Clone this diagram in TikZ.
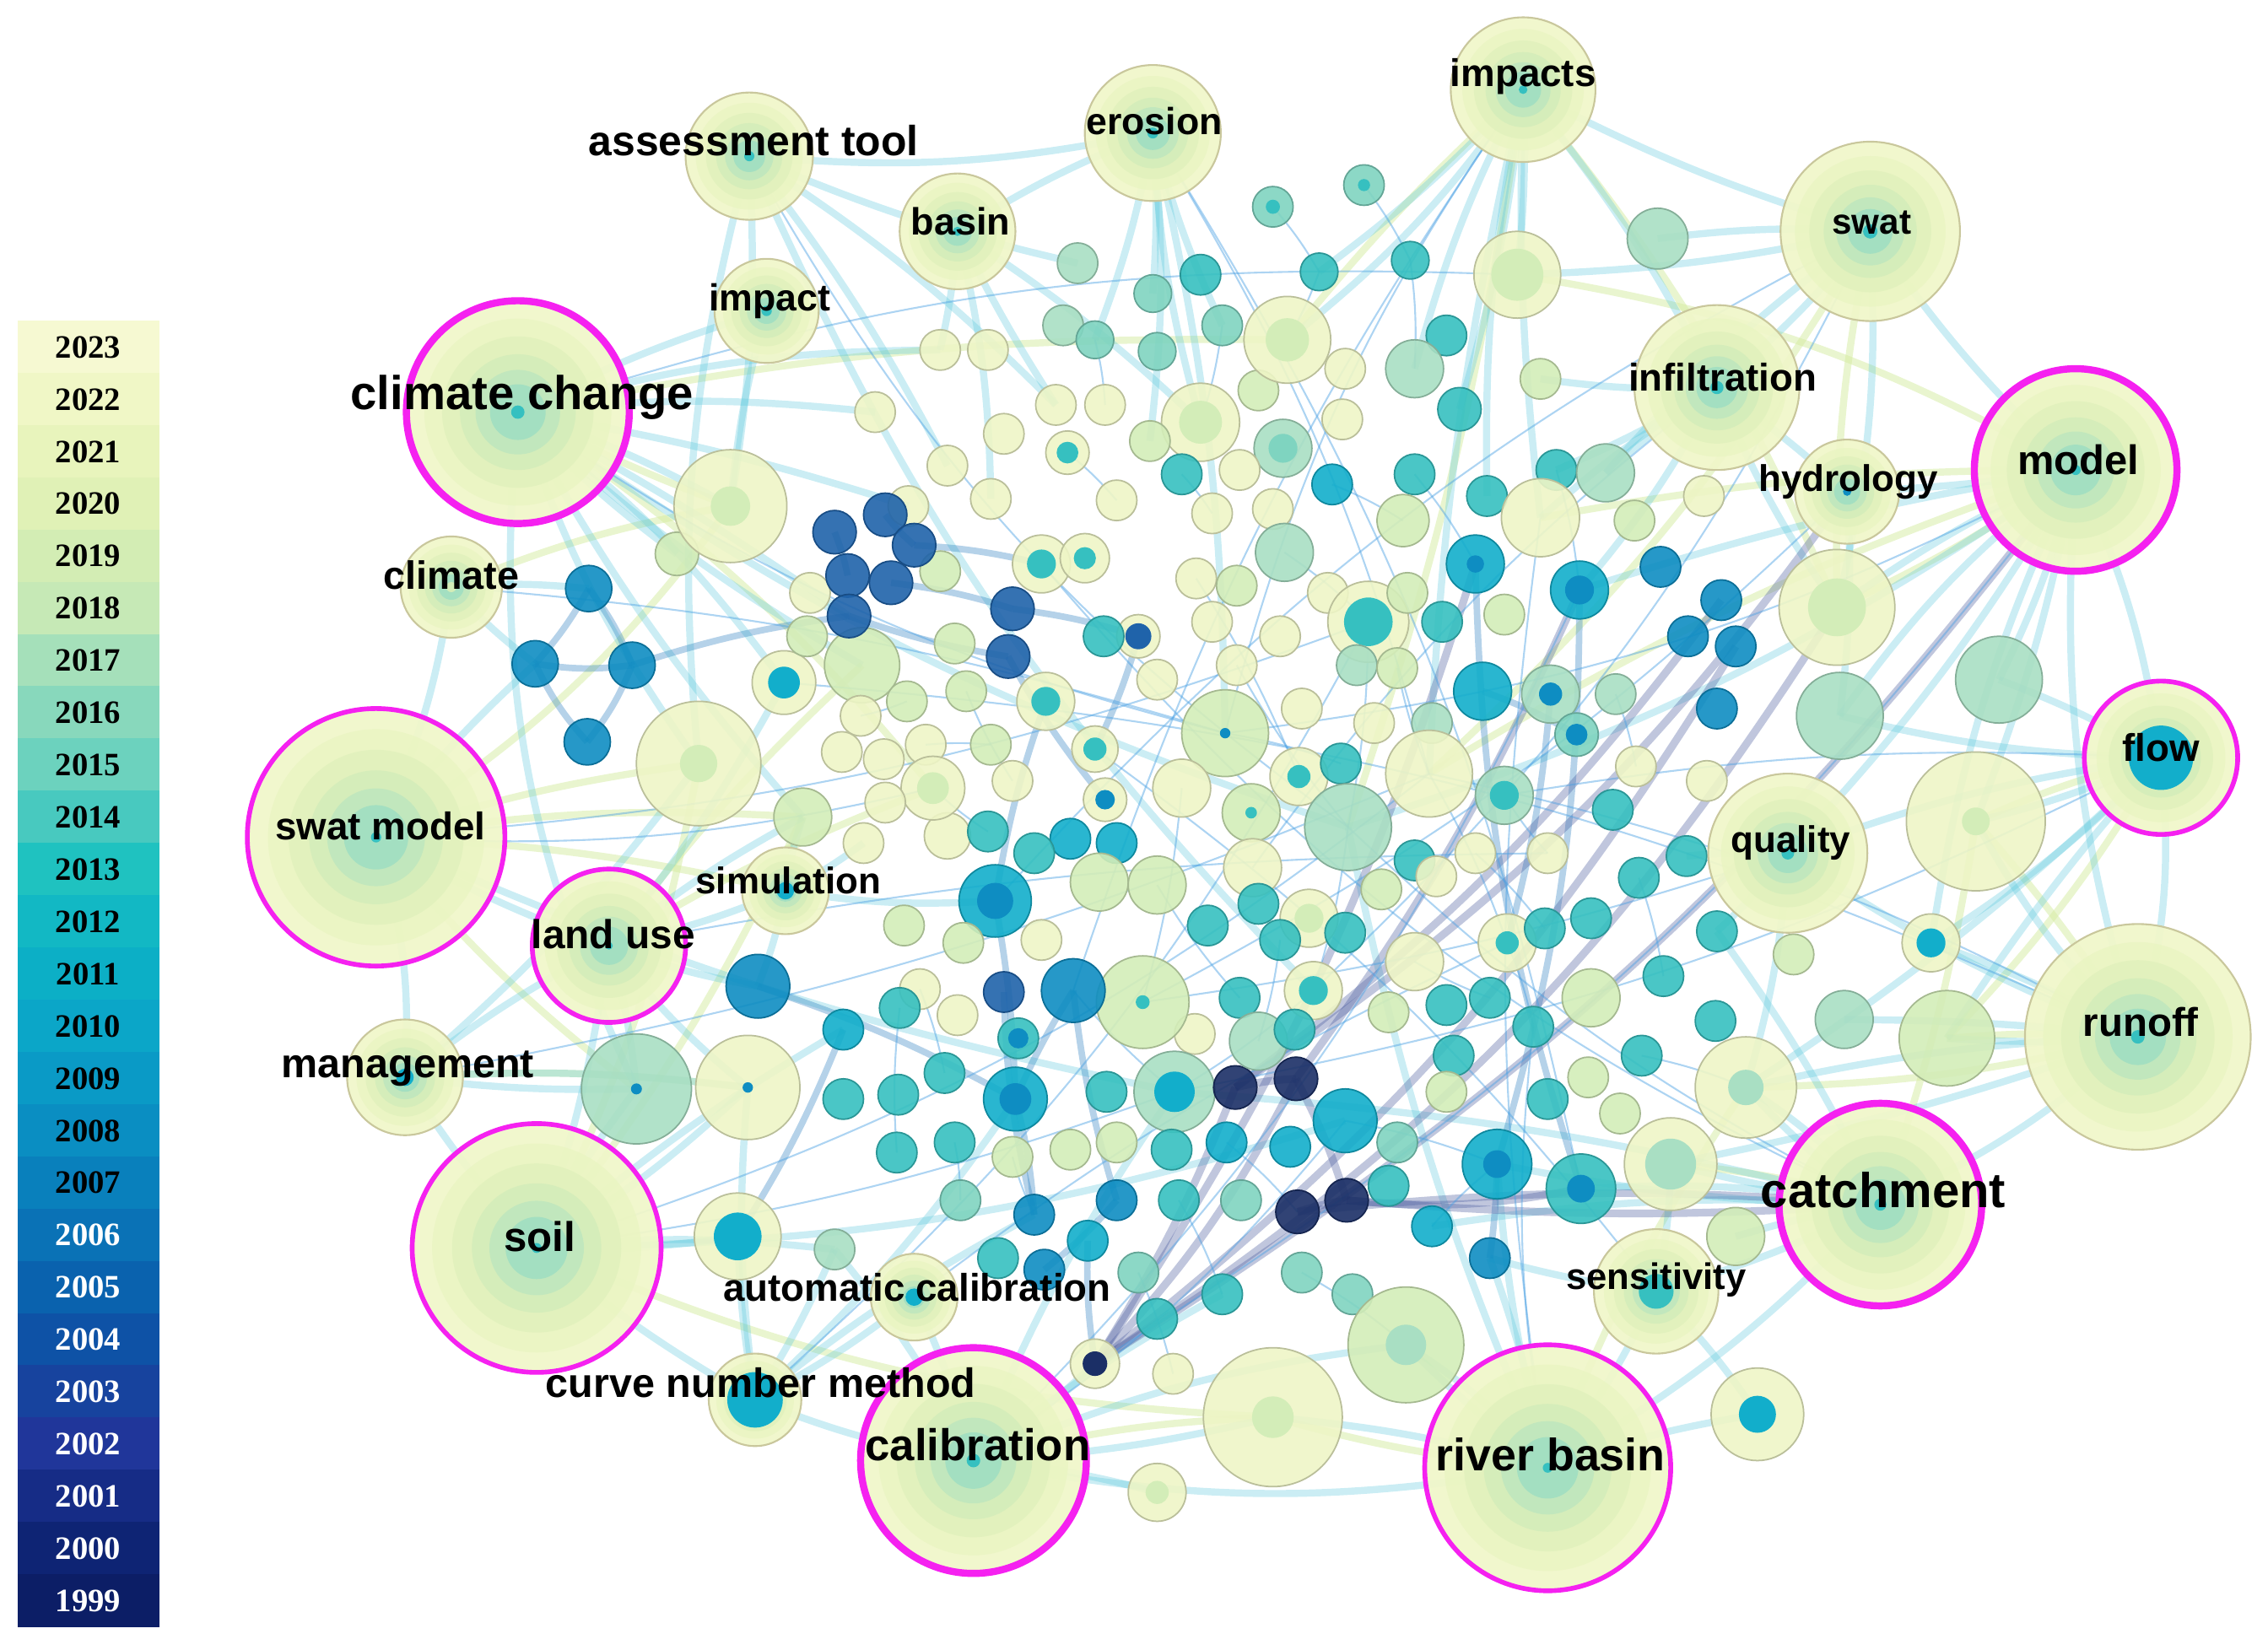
\documentclass[tikz,border=0pt]{standalone}
\usepackage{fontspec}
\setmainfont{Liberation Sans}
\newfontfamily\legfont{Liberation Serif}
\pgfdeclarelayer{bg}
\pgfsetlayers{bg,main}
% legend colours
\definecolor{y2023}{HTML}{F6F9D2}\definecolor{y2022}{HTML}{F0F7C6}\definecolor{y2021}{HTML}{E8F4BC}
\definecolor{y2020}{HTML}{E0F1B6}\definecolor{y2019}{HTML}{D3EDB4}\definecolor{y2018}{HTML}{C6E9B6}
\definecolor{y2017}{HTML}{A5E0BA}\definecolor{y2016}{HTML}{88D8BC}\definecolor{y2015}{HTML}{6CD2BE}
\definecolor{y2014}{HTML}{48C9BF}\definecolor{y2013}{HTML}{1FC2C0}\definecolor{y2012}{HTML}{12B8C4}
\definecolor{y2011}{HTML}{0CAFC6}\definecolor{y2010}{HTML}{0BA6C8}\definecolor{y2009}{HTML}{0A9AC6}
\definecolor{y2008}{HTML}{0A8EC2}\definecolor{y2007}{HTML}{0980BC}\definecolor{y2006}{HTML}{0A72B6}
\definecolor{y2005}{HTML}{0A62AE}\definecolor{y2004}{HTML}{0E52A6}\definecolor{y2003}{HTML}{17439E}
\definecolor{y2002}{HTML}{20369A}\definecolor{y2001}{HTML}{162C86}\definecolor{y2000}{HTML}{0E2474}
\definecolor{y1999}{HTML}{0C1E66}
% node colours
\definecolor{cY}{HTML}{EEF5C6}\definecolor{cLG}{HTML}{D3EDB8}\definecolor{cMG}{HTML}{A9DFC3}
\definecolor{cTG}{HTML}{7FD4C0}\definecolor{cT}{HTML}{36C0C0}\definecolor{cC}{HTML}{12AECB}
\definecolor{cB}{HTML}{0E8DC2}\definecolor{cDB}{HTML}{1F63AA}\definecolor{cN}{HTML}{1B2F66}
\definecolor{kw0}{HTML}{F0F7CA}\definecolor{kw1}{HTML}{EAF5C2}\definecolor{kw2}{HTML}{E0F1BC}
\definecolor{kw3}{HTML}{D2ECBA}\definecolor{kw4}{HTML}{BDE6BE}\definecolor{kw5}{HTML}{9CDDC2}
\definecolor{kwb}{HTML}{C9C79C}\definecolor{pinkc}{HTML}{F521F0}
\definecolor{ecyan}{HTML}{5CC8DC}\definecolor{eblue}{HTML}{2A7FC0}
\definecolor{epurp}{HTML}{4B5C9E}\definecolor{egreen}{HTML}{D4EBA0}
\newcommand\bubbles[2]{%
  \foreach \px/\py/\pr/\pf/\pc/\pk [count=\i] in {#2}{%
    \node[bub=\pr, fill=\pf, draw=\pf!78!black, line width=0.5pt, fill opacity=0.9] (#1\i) at (\px,\py) {};
    \fill[\pc] (#1\i.center) circle[radius={\pk*\pr*0.017143cm}];
  }}
\newcommand\kwn[7][draw=kwb,line width=0.6pt]{%
  \node[bub=#5, fill=kw0, fill opacity=0.95, #1] (#2) at (#3,#4) {};
  \foreach \fr/\cl in {0.84/kw1,0.68/kw2,0.52/kw3,0.38/kw4,0.25/kw5}{%
    \fill[\cl, fill opacity=0.8] (#2.center) circle[radius={\fr*#5*0.017143cm}];}
  \fill[#6] (#2.center) circle[radius={#7*#5*0.017143cm}];
}
\begin{document}
\begin{tikzpicture}[x=0.017143cm, y=-0.017143cm,
  bub/.style={circle, inner sep=0pt, outer sep=0pt, minimum size={#1*0.034286cm}},
  lab/.style={inner sep=0pt, text=black, font=\bfseries\fontsize{#1}{#1}\selectfont},
  legcell/.style={rectangle, inner sep=0pt, minimum width=1.68cm, minimum height=0.63cm,
    font=\legfont\bfseries\fontsize{11}{11}\selectfont},
  ec/.style={draw=ecyan, line width=2.4pt, opacity=0.32},
  ecthin/.style={draw=ecyan!80!blue, line width=0.6pt, opacity=0.45},
  eb/.style={draw=eblue, line width=2.2pt, opacity=0.35},
  ep/.style={draw=epurp, line width=2.6pt, opacity=0.35},
  eg/.style={draw=egreen, line width=2.4pt, opacity=0.5}]
\useasboundingbox (0,0) rectangle (1568,1141);

% ---------- legend ----------
\foreach \yr [count=\j from 0] in {2023,2022,...,2007}{
  \node[legcell, fill=y\yr, text=black] (leg\yr) at (61,{240.06+36.12*\j}) {\yr};}
\foreach \yr [count=\j from 17] in {2006,2005,...,1999}{
  \node[legcell, fill=y\yr, text=white] (leg\yr) at (61,{240.06+36.12*\j}) {\yr};}

% ---------- small nodes ----------
\bubbles{f}{625/640/14/cLG/cLG/0, 835/640/14/cT/cT/0, 960/700/14/cLG/cLG/0, 1070/760/14/cT/cT/0,
 1120/770/14/cLG/cLG/0, 1005/730/14/cT/cT/0, 655/578/16/cY/cY/0, 950/500/14/cY/cY/0,
 870/270/14/cLG/cLG/0, 1000/232/14/cT/cT/0, 830/190/14/cT/cT/0, 1115/560/14/cT/cT/0,
 1100/635/14/cT/cT/0, 960/820/14/cT/cT/0, 800/912/14/cT/cT/0, 690/870/14/cT/cT/0,
 935/895/14/cTG/cTG/0, 720/650/14/cY/cY/0, 1180/540/14/cY/cY/0, 1240/660/14/cLG/cLG/0,
 560/410/14/cY/cY/0, 650/395/14/cLG/cLG/0, 1040/425/14/cLG/cLG/0, 1130/360/14/cLG/cLG/0,
 735/225/14/cMG/cMG/0, 930/255/14/cY/cY/0}
\bubbles{t}{880/143/14/cTG/cT/0.35, 943/128/14/cTG/cT/0.3, 745/182/14/cMG/cMG/0, 797/203/13/cTG/cTG/0,
 912/188/13/cT/cT/0, 975/180/13/cT/cT/0, 1049/190/30/cY/cLG/0.6, 1146/165/21/cMG/cMG/0,
 845/225/14/cTG/cTG/0, 890/235/30/cY/cLG/0.5, 757/235/13/cTG/cTG/0, 800/243/13/cTG/cTG/0,
 650/242/14/cY/cY/0, 683/242/14/cY/cY/0, 978/255/20/cMG/cMG/0, 1065/262/14/cLG/cLG/0,
 730/280/14/cY/cY/0, 764/280/14/cY/cY/0, 830/292/27/cY/cLG/0.55, 887/310/20/cMG/cTG/0.5,
 928/290/14/cY/cY/0, 1009/283/15/cT/cT/0, 605/285/14/cY/cY/0, 1178/343/14/cY/cY/0}

\bubbles{m}{655/322/14/cY/cY/0, 694/300/14/cY/cY/0, 738/313/15/cY/cT/0.5, 795/305/14/cLG/cLG/0,
 857/325/14/cY/cY/0, 817/328/14/cT/cT/0, 921/335/14/cC/cC/0, 978/328/14/cT/cT/0,
 1028/343/14/cT/cT/0, 1076/325/14/cT/cT/0, 1110/327/20/cMG/cMG/0, 1065/358/27/cY/cY/0,
 685/345/14/cY/cY/0, 628/350/14/cY/cY/0, 772/346/14/cY/cY/0, 838/355/14/cY/cY/0,
 880/352/14/cY/cY/0, 970/360/18/cLG/cLG/0, 1020/390/20/cC/cB/0.3, 1092/408/20/cC/cB/0.5,
 1148/392/14/cB/cB/0, 1190/415/14/cB/cB/0, 1167/440/14/cB/cB/0, 1200/447/14/cB/cB/0,
 1187/490/14/cB/cB/0, 1270/420/40/cY/cLG/0.5, 1382/470/30/cMG/cMG/0, 1272/495/30/cMG/cMG/0,
 468/383/15/cLG/cLG/0, 505/350/39/cY/cLG/0.35, 700/421/15/cDB/cDB/0, 697/454/15/cDB/cDB/0,
 720/390/20/cY/cT/0.5, 750/386/17/cY/cT/0.45, 787/440/15/cY/cDB/0.6, 763/440/14/cT/cT/0,
 723/485/20/cY/cT/0.5, 542/472/22/cY/cC/0.5, 558/440/14/cLG/cLG/0, 596/460/26/cLG/cLG/0,
 627/485/14/cLG/cLG/0, 660/445/14/cLG/cLG/0, 668/478/14/cLG/cLG/0, 827/400/14/cY/cY/0,
 855/405/14/cLG/cLG/0, 838/430/14/cY/cY/0, 888/382/20/cMG/cMG/0, 918/410/14/cY/cY/0,
 946/430/28/cY/cT/0.6, 938/460/14/cMG/cMG/0, 973/410/14/cLG/cLG/0, 997/430/14/cT/cT/0,
 855/460/14/cY/cY/0, 885/440/14/cY/cY/0, 800/470/14/cY/cY/0, 1025/478/20/cC/cC/0,
 1072/480/20/cMG/cB/0.4, 1117/480/14/cMG/cMG/0, 990/500/14/cMG/cMG/0, 966/462/14/cLG/cLG/0}

\bubbles{b}{577/368/15/cDB/cDB/0, 612/356/15/cDB/cDB/0, 632/377/15/cDB/cDB/0, 586/398/15/cDB/cDB/0,
 616/403/15/cDB/cDB/0, 587/426/15/cDB/cDB/0, 407/407/16/cB/cB/0, 370/459/16/cB/cB/0,
 437/460/16/cB/cB/0, 406/513/16/cB/cB/0}

\bubbles{l}{483/528/43/cY/cLG/0.3, 595/495/14/cY/cY/0, 640/515/14/cY/cY/0, 582/520/14/cY/cY/0,
 611/525/14/cY/cY/0, 645/545/22/cY/cLG/0.5, 612/555/14/cY/cY/0, 685/515/14/cLG/cLG/0,
 700/540/14/cY/cY/0, 555/565/20/cLG/cLG/0, 597/583/14/cY/cY/0, 757/518/16/cY/cT/0.5,
 764/553/15/cY/cB/0.45, 847/507/30/cLG/cB/0.12, 817/545/20/cY/cY/0, 900/490/14/cY/cY/0,
 898/537/20/cY/cT/0.4, 865/562/20/cLG/cT/0.2, 927/528/14/cT/cT/0, 988/535/30/cY/cY/0,
 1040/550/20/cMG/cT/0.5, 1090/508/15/cTG/cB/0.5, 932/572/30/cMG/cMG/0, 978/595/14/cT/cT/0,
 993/606/14/cY/cY/0, 1020/590/14/cY/cY/0, 1070/590/14/cY/cY/0, 1133/607/14/cT/cT/0,
 1166/592/14/cT/cT/0, 1131/530/14/cY/cY/0, 1366/568/48/cY/cLG/0.2, 683/575/14/cT/cT/0,
 740/580/14/cC/cC/0, 772/583/14/cC/cC/0, 715/590/14/cT/cT/0, 688/623/25/cC/cB/0.5,
 760/610/20/cLG/cLG/0, 800/612/20/cLG/cLG/0, 866/600/20/cY/cY/0, 905/635/20/cY/cLG/0.5,
 870/625/14/cT/cT/0, 955/615/14/cLG/cLG/0}

\bubbles{d}{885/650/14/cT/cT/0, 930/645/14/cT/cT/0, 978/665/20/cY/cY/0, 1042/652/20/cY/cT/0.4,
 1068/642/14/cT/cT/0, 1000/695/14/cT/cT/0, 1030/690/14/cT/cT/0, 908/685/20/cY/cT/0.5,
 857/690/14/cT/cT/0, 826/715/14/cY/cY/0, 790/693/32/cLG/cT/0.15, 742/685/22/cB/cB/0,
 694/686/14/cDB/cDB/0, 704/718/14/cT/cB/0.5, 662/702/14/cY/cY/0, 636/684/14/cY/cY/0,
 666/652/14/cLG/cLG/0, 622/697/14/cT/cT/0, 583/712/14/cC/cC/0, 524/682/22/cB/cB/0,
 440/753/38/cMG/cB/0.1, 517/752/36/cY/cB/0.1, 583/760/14/cT/cT/0, 621/757/14/cT/cT/0,
 653/742/14/cT/cT/0, 702/760/22/cC/cB/0.5, 765/755/14/cT/cT/0, 812/755/28/cMG/cC/0.5,
 854/752/15/cN/cN/0, 896/746/15/cN/cN/0, 870/720/20/cMG/cMG/0, 895/712/14/cT/cT/0,
 930/775/22/cC/cC/0, 966/790/14/cTG/cTG/0, 1000/755/14/cLG/cLG/0, 1060/710/14/cT/cT/0,
 1098/745/14/cLG/cLG/0, 1035/805/24/cC/cB/0.4, 1093/822/24/cT/cB/0.4, 1100/690/20/cLG/cLG/0,
 1135/730/14/cT/cT/0, 1186/706/14/cT/cT/0, 1150/675/14/cT/cT/0, 1187/644/14/cT/cT/0,
 1207/752/35/cY/cMG/0.35, 1155/805/32/cY/cMG/0.55, 1200/855/20/cLG/cLG/0, 1335/652/20/cY/cC/0.5,
 1275/705/20/cMG/cMG/0, 1346/718/33/cLG/cLG/0}

\bubbles{g}{620/797/14/cT/cT/0, 660/790/14/cT/cT/0, 700/800/14/cLG/cLG/0, 740/795/14/cLG/cLG/0,
 772/790/14/cLG/cLG/0, 772/830/14/cB/cB/0, 810/795/14/cT/cT/0, 848/790/14/cC/cC/0,
 892/793/14/cC/cC/0, 858/830/14/cTG/cTG/0, 897/838/15/cN/cN/0, 931/830/15/cN/cN/0,
 815/830/14/cT/cT/0, 990/848/14/cC/cC/0, 1030/870/14/cB/cB/0, 900/880/14/cTG/cTG/0,
 845/895/14/cT/cT/0, 715/840/14/cB/cB/0, 752/858/14/cC/cC/0, 577/864/14/cMG/cMG/0,
 510/855/30/cY/cC/0.55, 664/830/14/cTG/cTG/0, 722/878/14/cB/cB/0, 787/880/14/cTG/cTG/0,
 972/930/40/cLG/cMG/0.35, 880/980/48/cY/cLG/0.3, 757/943/17/cY/cN/0.5, 811/950/14/cY/cY/0,
 800/1032/20/cY/cLG/0.4, 1215/978/32/cY/cC/0.4}

% ---------- keyword nodes ----------
\kwn{impacts}{1053}{62}{50}{cT}{0.06}
\kwn{erosion}{797}{92}{47}{cT}{0.08}
\kwn{assess}{518}{108}{44}{cT}{0.08}
\kwn{basin}{662}{160}{40}{cT}{0.08}
\kwn{swat}{1293}{160}{62}{cT}{0.08}
\kwn{impact}{530}{215}{36}{cT}{0.1}
\kwn[draw=pinkc,line width=2.4pt]{climchange}{358}{285}{77}{cT}{0.06}
\kwn{infiltration}{1187}{268}{57}{cT}{0.08}
\kwn[draw=pinkc,line width=2.4pt]{model}{1435}{325}{70}{cT}{0.05}
\kwn{hydrology}{1277}{340}{36}{cB}{0.08}
\kwn{climate}{312}{406}{35}{cLG}{0.1}
\kwn[draw=pinkc,line width=1.6pt]{flow}{1494}{524}{53}{cC}{0.42}
\kwn[draw=pinkc,line width=1.6pt]{swatmodel}{260}{579}{89}{cT}{0.04}
\kwn{quality}{1236}{590}{55}{cT}{0.08}
\kwn{simulation}{543}{616}{30}{cC}{0.2}
\kwn[draw=pinkc,line width=1.6pt]{landuse}{421}{654}{53}{cT}{0.05}
\kwn{runoff}{1478}{717}{78}{cT}{0.06}
\kwn{management}{280}{745}{40}{cC}{0.15}
\kwn[draw=pinkc,line width=2.4pt]{catchment}{1300}{833}{70}{cT}{0.06}
\kwn[draw=pinkc,line width=1.6pt]{soil}{371}{863}{86}{cT}{0.04}
\kwn{sensitivity}{1145}{893}{43}{cT}{0.28}
\kwn{autocal}{632}{897}{30}{cC}{0.2}
\kwn{curvenum}{522}{968}{32}{cC}{0.6}
\kwn[draw=pinkc,line width=2.4pt]{calibration}{673}{1010}{78}{cT}{0.06}
\kwn[draw=pinkc,line width=1.6pt]{riverbasin}{1070}{1015}{85}{cT}{0.04}

% ---------- connectors ----------
\begin{pgfonlayer}{bg}
\foreach \a/\b/\bd in {swatmodel/l1/5, climchange/m30/-3, management/d22/5, runoff/l31/-4, model/m26/5,
  impacts/t10/-4, flow/l31/-5, riverbasin/g26/5, swatmodel/m30/-10, soil/l1/-8, climate/m30/6,
  swat/m26/-6, catchment/d46/-6, calibration/g26/6, swatmodel/simulation/5, landuse/m40/5,
  climchange/l6/8, runoff/d50/-4, model/m12/-5, flow/d50/6, swatmodel/d21/-6, soil/g26/-10,
  runoff/d45/6, model/t7/-10, impacts/m26/8, climchange/t10/6, catchment/l31/-5, riverbasin/d45/6,
  swatmodel/l10/6, soil/l10/-6, landuse/l6/5, model/l20/-6, swat/l20/8, impacts/l23/5}
  \draw[eg] (\a.center) to[bend left=\bd] (\b.center);
\foreach \a/\b/\bd in {climchange/m30/5, climchange/l1/-8, climchange/t23/6, climchange/m14/4,
  climchange/m29/-5, climchange/d21/-15, climchange/b6/3, climchange/l10/-6, climchange/impact/5,
  climchange/t13/8, assess/t3/-5, assess/m1/5, assess/l1/-10, assess/t17/6, assess/erosion/-8,
  erosion/t4/4, erosion/t9/-5, erosion/m4/6, erosion/basin/-5, erosion/t11/5,
  basin/t13/4, basin/m13/6, basin/t17/-3,
  impacts/t7/4, impacts/t15/-6, impacts/t22/5, impacts/m12/-4, impacts/infiltration/6, impacts/t10/8,
  impacts/m9/-6, impacts/swat/-5, impacts/t5/5,
  swat/infiltration/5, swat/t8/-5, swat/m26/8, swat/m11/-6, swat/model/-6,
  model/hydrology/3, model/m26/-5, model/m27/6, model/flow/8, model/runoff/-10, model/l31/5,
  model/m20/-4, model/quality/6, model/d48/-8,
  infiltration/m10/4, infiltration/m12/-5, infiltration/hydrology/3, infiltration/m11/-4,
  infiltration/m20/6, infiltration/t16/5,
  flow/runoff/10, flow/m27/-5, flow/l31/5, flow/d48/6, flow/quality/-6, flow/d45/5, flow/d50/-4,
  runoff/catchment/8, runoff/d49/-3, runoff/d50/4, runoff/d48/-5, runoff/quality/6, runoff/d45/-5,
  runoff/d46/4,
  catchment/d46/3, catchment/d47/-4, catchment/d45/6, catchment/d39/-6, catchment/d38/5,
  catchment/g14/-6, catchment/sensitivity/5, catchment/riverbasin/8, catchment/d44/-5,
  riverbasin/g25/4, riverbasin/g26/-5, riverbasin/sensitivity/-6, riverbasin/g30/5,
  riverbasin/g15/-4, riverbasin/calibration/10, riverbasin/d38/5,
  calibration/g26/-5, calibration/g29/5, calibration/g27/-4, calibration/curvenum/6,
  calibration/autocal/-5, calibration/g17/5, calibration/g20/-6,
  curvenum/soil/5, curvenum/autocal/-5, curvenum/g21/4, curvenum/g20/-4, curvenum/d22/6,
  curvenum/d26/-6, curvenum/g18/5,
  soil/g21/-5, soil/d21/5, soil/d22/-6, soil/management/5, soil/landuse/-5, soil/d19/5,
  swatmodel/climate/-8, swatmodel/management/10, swatmodel/landuse/-5, swatmodel/b8/5,
  management/d21/-4, management/landuse/5, management/l1/-6, management/d22/5,
  landuse/simulation/-5, landuse/l10/5, landuse/d20/-5, landuse/d21/5, landuse/m38/-5,
  climate/b7/5, climate/b8/-5,
  simulation/l10/5, simulation/l11/-5, simulation/d20/5, simulation/l36/-6,
  sensitivity/g30/5, sensitivity/d46/-5, sensitivity/g15/4, quality/d44/5, quality/l29/-4,
  quality/d45/6, climchange/m40/-6, climchange/m38/8, assess/m30/6, impact/m30/-5, basin/t19/5,
  erosion/t19/-6, swat/t7/5, infiltration/m26/-6, hydrology/m28/5, model/m28/-8, flow/m28/6,
  runoff/l31/8, catchment/d45/-8, riverbasin/g25/-8, calibration/g25/8, soil/g20/6, landuse/d22/-6,
  climchange/l23/-8, swatmodel/d28/-6, soil/d33/-8, calibration/d28/6, riverbasin/l23/6,
  catchment/d28/-5, model/l23/8, assess/d8/-10, erosion/l14/6, impacts/l20/-5}
  \draw[ec] (\a.center) to[bend left=\bd] (\b.center);
\foreach \a/\b/\bd in {b7/b9/8, b8/b9/-8, b9/b10/8, b8/b10/-8, b7/b8/6, b9/b6/5,
  b1/b4/5, b2/b3/-5, b5/m31/5, b6/m32/-5, m31/m35/5, m32/l13/-5, b3/m33/5,
  l36/m37/5, d26/g18/5, d12/g6/-5, m20/d38/8, m19/d39/-8, m57/d4/5, m56/l22/5, d38/g15/3,
  l36/d26/4, d12/d26/-4, m35/l12/5, d20/d26/5, d13/g18/-6, g6/g23/5, g19/g27/-5, d19/g21/5}
  \draw[eb] (\a.center) to[bend left=\bd] (\b.center);
\foreach \a/\b/\bd in {g27/m26/-12, g27/model/-10, d29/hydrology/-10, g11/catchment/5,
  d30/m20/-6, g12/d39/-8, g27/d30/-8, g27/d29/-5, d29/d30/5, d30/g12/5, g11/g12/4,
  g27/m24/-10, d29/m22/-8, g27/m19/-8, g12/catchment/-4}
  \draw[ep] (\a.center) to[bend left=\bd] (\b.center);
\foreach \a/\b/\bd in {t1/t5/5, t2/t6/5, t5/t10/5, t6/t15/5, t9/t19/5, t11/t18/5, m3/m15/5,
  m6/m16/5, m7/m18/5, m8/m19/5, m10/m20/5, m47/m49/5, m49/l23/5, l23/d8/5, d8/d28/5, d28/d12/5,
  l14/l19/5, l20/d4/5, d4/d36/5, l28/d43/5, d41/d45/5, d33/d38/5, g8/g11/5, g13/g17/5, g24/g28/5,
  g16/g25/5, g14/d38/5, climchange/l14/-10, swatmodel/l6/-8, soil/d28/-6, calibration/d33/-8,
  riverbasin/d36/8, catchment/l23/8, runoff/l20/-8, model/l14/10, flow/l21/-6, impacts/l14/-10,
  erosion/l20/8, assess/l23/-12, swat/d8/10, infiltration/l39/-8, hydrology/d11/8,
  climate/l14/6, management/l20/-6, landuse/l27/5, quality/d11/5, sensitivity/l12/-8,
  curvenum/m49/-10, autocal/d4/6, climchange/t7/10, swatmodel/m49/-8, soil/l20/-10,
  calibration/m20/-10, riverbasin/m12/8, catchment/m33/12, runoff/m38/-10, model/g27/10,
  flow/d28/8, impacts/d12/-8, erosion/d39/10, swat/l36/-10, m44/l17/5, m53/l23/-5,
  l15/d11/5, l38/d9/-5, d1/d31/5, d3/d7/-5, l26/d5/5, l21/l27/-5, m58/l30/5, m60/l20/-5,
  l3/l8/5, l6/l32/-5, m41/l2/5, m43/l9/-5, d16/d25/5, d18/g1/-5, g2/g22/5, g3/g18/-5}
  \draw[ecthin] (\a.center) to[bend left=\bd] (\b.center);
\end{pgfonlayer}

% ---------- labels ----------
\node[lab=16] (Lclimchange) at (361,275) {climate change};
\node[lab=14.2] (Lassess) at (521,97) {assessment tool};
\node[lab=12.7] (Lerosion) at (798,84) {erosion};
\node[lab=13] (Limpacts) at (1053,53) {impacts};
\node[lab=12.8] (Lbasin) at (664,153) {basin};
\node[lab=12] (Lswat) at (1294,154) {swat};
\node[lab=12.7] (Limpact) at (532,208) {impact};
\node[lab=13] (Linfil) at (1191,261) {infiltration};
\node[lab=13.9] (Lmodel) at (1437,318) {model};
\node[lab=12.5] (Lhydro) at (1278,333) {hydrology};
\node[lab=13.3] (Lclimate) at (312,398) {climate};
\node[lab=13] (Lflow) at (1494,517) {flow};
\node[lab=13] (Lswatmodel) at (263,571) {swat model};
\node[lab=12.5] (Lquality) at (1238,583) {quality};
\node[lab=12.5] (Lsim) at (545,609) {simulation};
\node[lab=13.6] (Llanduse) at (424,646) {land use};
\node[lab=13.5] (Lrunoff) at (1480,707) {runoff};
\node[lab=13.8] (Lmanage) at (282,739) {management};
\node[lab=16.5] (Lcatch) at (1302,823) {catchment};
\node[lab=14] (Lsoil) at (373,855) {soil};
\node[lab=12.4] (Lsens) at (1145,885) {sensitivity};
\node[lab=13] (Lautocal) at (634,890) {automatic calibration};
\node[lab=13.8] (Lcurve) at (526,956) {curve number method};
\node[lab=15] (Lcalib) at (676,999) {calibration};
\node[lab=15.3] (Lriver) at (1072,1006) {river basin};
\end{tikzpicture}
\end{document}
